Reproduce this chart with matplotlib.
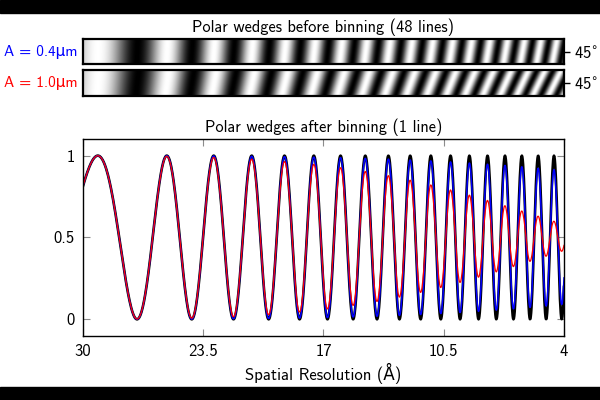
import numpy as np
import matplotlib
matplotlib.use("Agg")
import matplotlib.pyplot as plt
from matplotlib.patches import Rectangle

# x axis: spatial frequency, labelled with resolution values (Å)
res_ticks = [30, 23.5, 17, 10.5, 4]
k_min, k_max = 1 / 30, 1 / 4

# fringe model
fringe_k2 = 0.003451      # Å^-2 per fringe
phase_offset = 0.036      # fraction of a fringe
n_lines = 48
wedge_angle = 45

# astigmatism of the two wedges and their colours
astig_um = [0.4, 1.0]
astig_colors = ["blue", "red"]
spread_per_um = 0.0232    # relative defocus spread across the wedge per μm

FONT = ["cmss10", "DejaVu Sans"]
plt.rcParams["font.family"] = FONT
plt.rcParams["font.size"] = 11.5
plt.rcParams["mathtext.fontset"] = "dejavusans"


def wedge(astig, ncols=1200):
    k = np.linspace(k_min, k_max, ncols)
    t = np.linspace(-1, 1, n_lines)[:, None]
    u = (k[None, :] ** 2 / fringe_k2) * (1 + spread_per_um * astig * t) + phase_offset
    return k, np.sin(np.pi * u) ** 2


fig = plt.figure(figsize=(6, 4), dpi=100)
fig.patches.append(Rectangle((0, 0.9675), 1, 0.0325, transform=fig.transFigure,
                             color="black", zorder=-1))
fig.patches.append(Rectangle((0, 0), 1, 0.0325, transform=fig.transFigure,
                             color="black", zorder=-1))

left, width = 0.1383, 0.8017
strip_axes = [fig.add_axes([left, 0.8393, width, 0.0633]),
              fig.add_axes([left, 0.7608, width, 0.064])]
ax = fig.add_axes([left, 0.1608, width, 0.491])

binned = []
for sax, a, c in zip(strip_axes, astig_um, astig_colors):
    k, img = wedge(a)
    binned.append(img.mean(axis=0))
    sax.imshow(img, cmap="gray", vmin=0, vmax=1, aspect="auto",
               extent=[k_min, k_max, 1, 0], interpolation="bilinear")
    sax.set_xticks([])
    sax.yaxis.tick_right()
    sax.set_yticks([0.5])
    sax.set_yticklabels([f"{wedge_angle}$^{{\\circ}}$"])
    sax.tick_params(axis="y", direction="out", length=4, width=1, pad=3,
                    labelsize=12)
    for sp in sax.spines.values():
        sp.set_linewidth(1.6)
    sax.text(-0.012, 0.5, f"A = {a:.1f}μm", color=c, ha="right", va="center",
             transform=sax.transAxes, fontsize=11)
strip_axes[0].set_title("Polar wedges before binning (48 lines)", pad=5,
                        fontsize=11.8)

# binned profiles
k, ref = wedge(0.0)
ax.plot(k, ref[0], color="black", lw=1.9)
for prof, c, lw in zip(binned, astig_colors, [1.1, 0.9]):
    ax.plot(k, prof, color=c, lw=lw)

ax.set_xlim(k_min, k_max)
ax.set_ylim(-0.1, 1.1)
ax.set_xticks(np.linspace(k_min, k_max, len(res_ticks)))
ax.set_xticklabels([f"{r:g}" for r in res_ticks])
ax.set_yticks([0, 0.5, 1])
ax.set_yticklabels(["0", "0.5", "1"])
ax.tick_params(direction="in", length=5, width=0.8, color="0.55",
               top=True, right=True, pad=6, labelsize=12)
for sp in ax.spines.values():
    sp.set_linewidth(1.0)
ax.set_title("Polar wedges after binning (1 line)", pad=5, fontsize=11.8)
ax.set_xlabel("Spatial Resolution (Å)", labelpad=3, fontsize=12)

fig.savefig("out.png", dpi=100)
